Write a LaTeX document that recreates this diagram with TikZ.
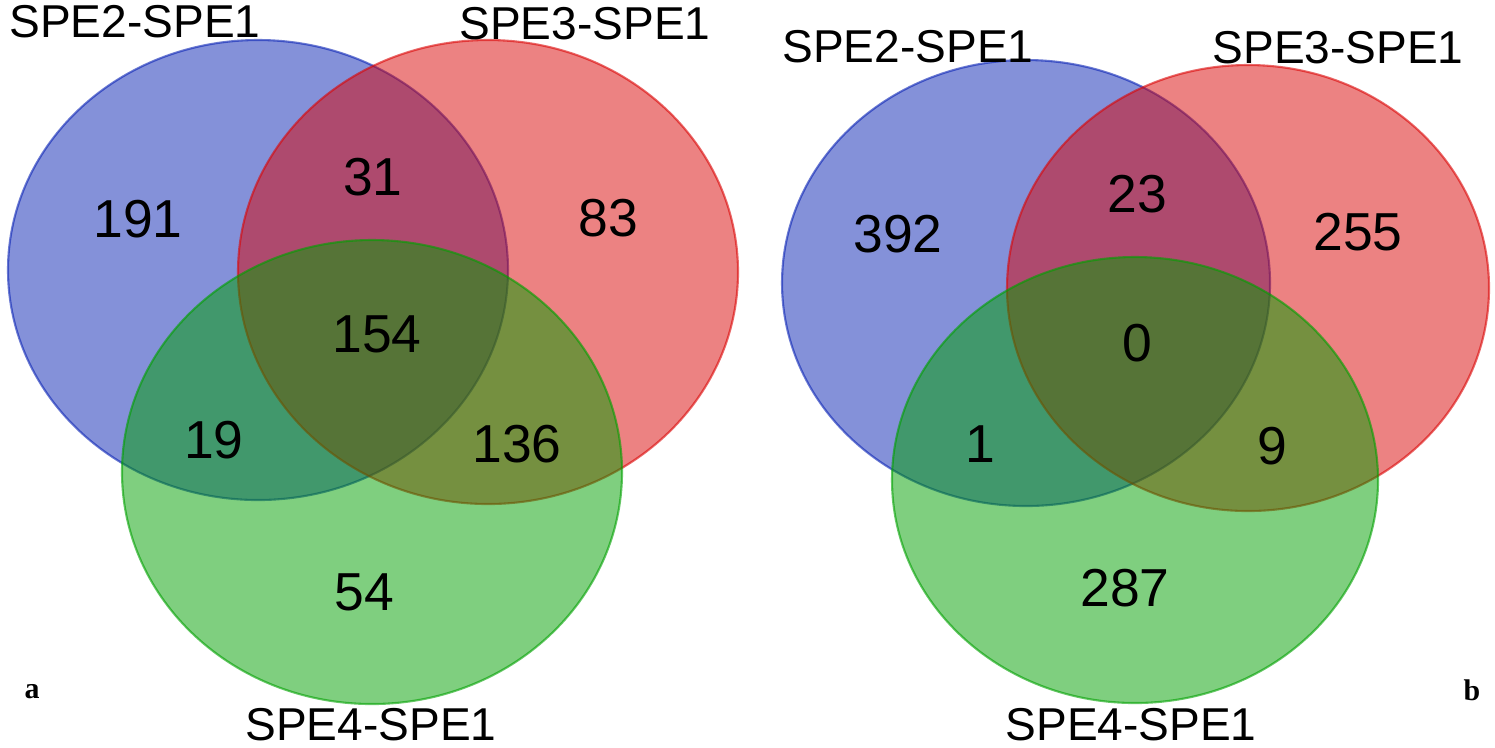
\documentclass[tikz,border=0pt]{standalone}
\usepackage{fontspec}
\setmainfont{Liberation Sans}
\newfontfamily\panelfont{Liberation Serif}
\usetikzlibrary{shapes,calc}
\definecolor{vblue}{RGB}{10,35,180}
\definecolor{vred}{RGB}{218,5,5}
\definecolor{vgreen}{RGB}{0,160,0}
\tikzstyle{vset} = [fill opacity=0.5, draw opacity=0.6, line width=0.6pt]
\tikzstyle{count} = [inner sep=0pt, font=\fontsize{15.2}{17}\selectfont]
\tikzstyle{setname} = [inner sep=0pt, font=\fontsize{13.1}{15}\selectfont]
\tikzstyle{panel} = [inner sep=0pt, font=\panelfont\bfseries\fontsize{8.5}{10}\selectfont]

\begin{document}
\begin{tikzpicture}[x=0.01cm, y=-0.01cm]
        \useasboundingbox (0,0) rectangle (1495,747);
        % panel a
        \draw[vset, draw=vblue, fill=vblue] (258,270) ellipse [x radius=250, y radius=230];
        \draw[vset, draw=vred, fill=vred] (488,272) ellipse [x radius=250, y radius=232];
        \draw[vset, draw=vgreen, fill=vgreen] (372,472) ellipse [x radius=250, y radius=232];
        \node[setname] (lnameA) at (135,22) {SPE2-SPE1};
        \node[setname] (lnameB) at (585,24) {SPE3-SPE1};
        \node[setname] (lnameC) at (371,725) {SPE4-SPE1};
        \node[count] (lA) at (138,219) {191};
        \node[count] (lAB) at (373,177) {31};
        \node[count] (lB) at (608,218) {83};
        \node[count] (lABC) at (377,334) {154};
        \node[count] (lAC) at (214,440) {19};
        \node[count] (lBC) at (517,444) {136};
        \node[count] (lC) at (364,592) {54};
        \node[panel] (pa) at (32,692) {a};
        % panel b
        \draw[vset, draw=vblue, fill=vblue] (1026,283) ellipse [x radius=244, y radius=223];
        \draw[vset, draw=vred, fill=vred] (1248,288) ellipse [x radius=241, y radius=223];
        \draw[vset, draw=vgreen, fill=vgreen] (1135,480) ellipse [x radius=243, y radius=223];
        \node[setname] (rnameA) at (908,47) {SPE2-SPE1};
        \node[setname] (rnameB) at (1338,48) {SPE3-SPE1};
        \node[setname] (rnameC) at (1131,725) {SPE4-SPE1};
        \node[count] (rA) at (898,234) {392};
        \node[count] (rAB) at (1137,194) {23};
        \node[count] (rB) at (1358,232) {255};
        \node[count] (rABC) at (1137,343) {0};
        \node[count] (rAC) at (980,444) {1};
        \node[count] (rBC) at (1272,446) {9};
        \node[count] (rC) at (1125,588) {287};
        \node[panel] (pb) at (1472,690) {b};
    \end{tikzpicture}
\end{document}
